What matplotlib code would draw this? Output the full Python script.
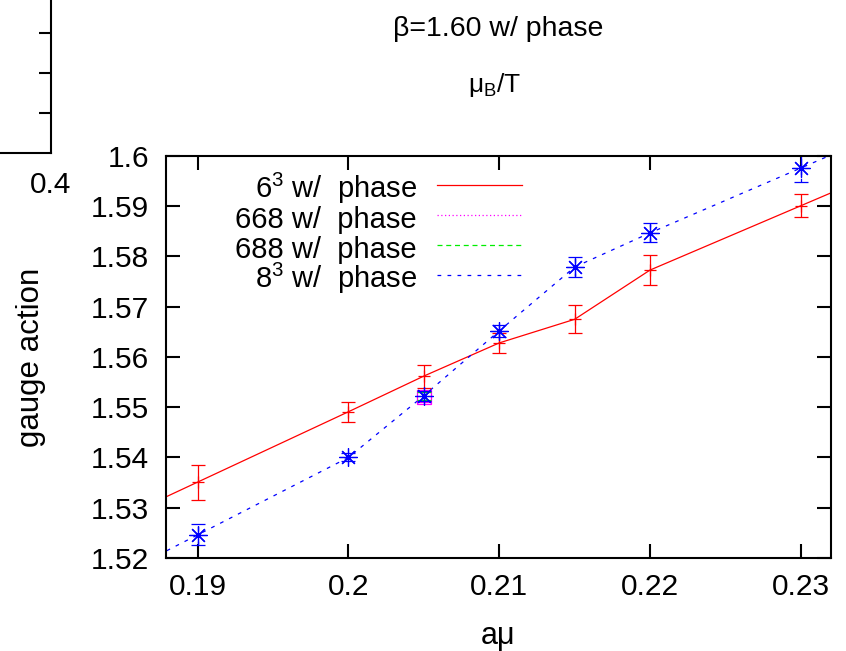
#---------------------------------------
# gauge action vs a*mu, beta=1.60 with phase
#---------------------------------------
import matplotlib
matplotlib.use("Agg")
import matplotlib.pyplot as plt

plt.rcParams['font.family'] = ['Liberation Sans', 'DejaVu Sans']

# 6^3 w/ phase
amu_6 = [0.19, 0.2, 0.205, 0.21, 0.215, 0.22, 0.23]
act_6 = [1.5351, 1.5491, 1.5562, 1.5628, 1.5675, 1.5773, 1.5901]
err_6 = [0.0035, 0.0020, 0.0023, 0.0020, 0.0028, 0.0030, 0.0023]
# points just outside the visible window (the lines run on to the frame)
amu_6_out = [0.185, 0.235]
act_6_out = [1.5281, 1.5965]

# 668 / 688 w/ phase
amu_668 = [0.205]
act_668 = [1.5521]
err_668 = [0.0010]
amu_688 = [0.205]
act_688 = [1.5522]
err_688 = [0.0008]

# 8^3 w/ phase
amu_8 = [0.19, 0.2, 0.205, 0.21, 0.215, 0.22, 0.23]
act_8 = [1.5246, 1.5400, 1.5523, 1.5652, 1.5779, 1.5847, 1.5976]
err_8 = [0.0021, 0.0008, 0.0010, 0.0012, 0.0020, 0.0019, 0.0028]
amu_8_out = [0.185, 0.235]
act_8_out = [1.5169, 1.6041]

xticks = [0.19, 0.2, 0.21, 0.22, 0.23]
xlabels = ["0.19", "0.2", "0.21", "0.22", "0.23"]
yticks = [1.52, 1.53, 1.54, 1.55, 1.56, 1.57, 1.58, 1.59, 1.6]
ylabels = ["1.52", "1.53", "1.54", "1.55", "1.56", "1.57", "1.58", "1.59", "1.6"]

RED, MAG, GRN, BLU = "#ff0000", "#ff00ff", "#00ee00", "#0000ff"
FS = 21.5

fig = plt.figure(figsize=(8.46, 6.51), dpi=100)

# piece of the neighbouring panel, top left corner
ax0 = fig.add_axes([-0.30, 0.765, 0.3603, 0.335])
ax0.set_xlim(0, 1)
ax0.set_ylim(0, 218)
for s in ax0.spines.values():
    s.set_linewidth(1.5)
ax0.yaxis.tick_right()
ax0.set_yticks([40, 80, 120])
ax0.set_yticklabels([])
ax0.tick_params(axis='y', direction='in', length=9, width=1.5)
ax0.set_xticks([1.0])
ax0.set_xticklabels(["0.4"])
ax0.tick_params(axis='x', length=0, pad=13, labelsize=FS)

fig.text(0.589, 0.955, "β=1.60 w/ phase", ha='center', va='center', fontsize=20.5)
fig.text(0.585, 0.869, r"$\mathregular{\mu_B}$/T", ha='center', va='center', fontsize=19)

ax = fig.add_axes([0.1962, 0.1429, 0.7861, 0.6175])

# lines
ax.plot([amu_6_out[0]] + amu_6 + [amu_6_out[1]], [act_6_out[0]] + act_6 + [act_6_out[1]],
        color=RED, lw=0.9)
ax.plot([amu_8_out[0]] + amu_8 + [amu_8_out[1]], [act_8_out[0]] + act_8 + [act_8_out[1]],
        color=BLU, lw=0.9, dashes=(3, 5))

# points with error bars
ax.errorbar(amu_6, act_6, yerr=err_6, fmt='none', ecolor=RED, elinewidth=0.9,
            capsize=4.8, capthick=0.9)
ax.plot(amu_6, act_6, ls='none', marker='+', ms=9, mew=0.9, color=RED)

eb = ax.errorbar(amu_668, act_668, yerr=err_668, fmt='none', ecolor=MAG, elinewidth=0.9,
                 capsize=4.8, capthick=0.9)
eb[2][0].set_linestyle((0, (1, 2)))
ax.plot(amu_668, act_668, ls='none', marker='s', ms=10, mfc='none', mew=0.9, color=MAG)

eb = ax.errorbar(amu_688, act_688, yerr=err_688, fmt='none', ecolor=GRN, elinewidth=0.9,
                 capsize=4.8, capthick=0.9)
eb[2][0].set_linestyle((0, (4, 3)))
ax.plot(amu_688, act_688, ls='none', marker='x', ms=8, mew=0.9, color=GRN)

eb = ax.errorbar(amu_8, act_8, yerr=err_8, fmt='none', ecolor=BLU, elinewidth=0.9,
                 capsize=4.8, capthick=0.9)
eb[2][0].set_linestyle((0, (3, 3)))
ax.plot(amu_8, act_8, ls='none', marker=(8, 2, 0), ms=13, mew=0.9, color=BLU)

ax.set_xlim(0.1879, 0.2320)
ax.set_ylim(1.52, 1.6)
ax.set_xticks(xticks)
ax.set_xticklabels(xlabels)
ax.set_yticks(yticks)
ax.set_yticklabels(ylabels)
ax.tick_params(direction='in', length=10, width=1.5, top=True, right=True, labelsize=FS)
ax.tick_params(axis='x', pad=11)
ax.tick_params(axis='y', pad=12)
for s in ax.spines.values():
    s.set_linewidth(1.5)

ax.set_xlabel("aμ", fontsize=22, labelpad=14)
ax.set_ylabel("gauge action", fontsize=22.5)
ax.yaxis.set_label_coords(-0.1805, 0.5)

# key, gnuplot style: right aligned text, line sample on the right
key_labels = [r"$\mathregular{6^3}$ w/  phase", "668 w/  phase", "688 w/  phase",
              r"$\mathregular{8^3}$ w/  phase"]
key_colors = [RED, MAG, GRN, BLU]
key_styles = ['-', (0, (1, 2)), (0, (4, 3)), (0, (3, 5))]
key_base = [0.8955, 0.8209, 0.7463, 0.6716]
for lab, col, sty, yb in zip(key_labels, key_colors, key_styles, key_base):
    ax.text(0.3774, yb, lab, transform=ax.transAxes, ha='right', va='baseline',
            fontsize=21)
    ax.plot([0.4075, 0.5353], [yb + 0.032, yb + 0.032], transform=ax.transAxes,
            color=col, lw=0.9, ls=sty)

plt.savefig("out.png", dpi=100)
